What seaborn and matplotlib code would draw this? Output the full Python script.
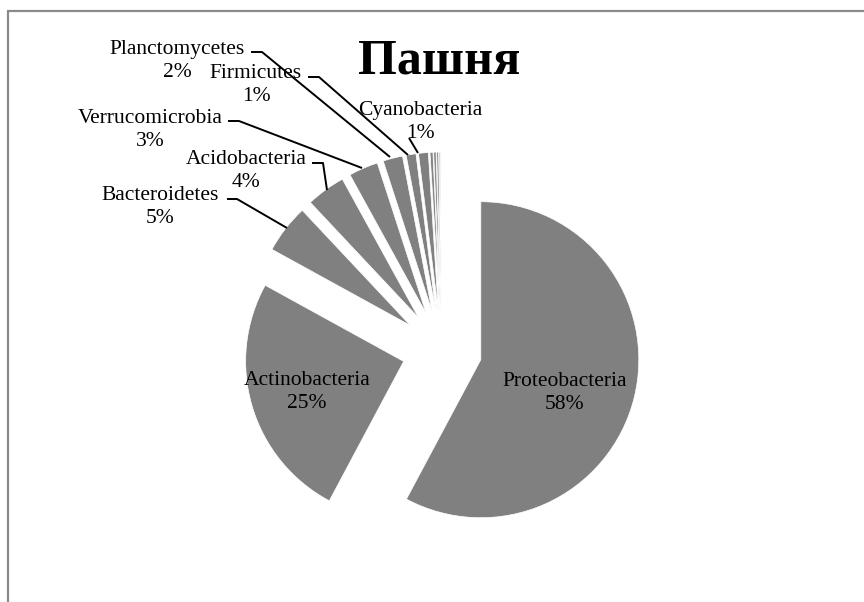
import numpy as np
import matplotlib
matplotlib.use("Agg")
import matplotlib.pyplot as plt
import seaborn as sns
from matplotlib.patches import Rectangle

# Данные: доли филумов (Пашня)
phyla = ['Proteobacteria', 'Actinobacteria', 'Bacteroidetes', 'Acidobacteria',
         'Verrucomicrobia', 'Planctomycetes', 'Firmicutes', 'Cyanobacteria',
         '', '', '', '', '', '']
shares = [57.8, 25.2, 5.0, 4.0, 3.0, 2.0, 1.0, 1.0, 0.3, 0.25, 0.2, 0.12, 0.08, 0.05]
title = 'Пашня'

sns.set_theme(style='white')
plt.rcParams['font.family'] = ['Liberation Serif', 'DejaVu Serif']
plt.rcParams['text.color'] = 'black'

W, H = 864, 602
fig = plt.figure(figsize=(W / 100, H / 100), dpi=100)
ax = fig.add_axes([0, 0, 1, 1])

gray = '#808080'
colors = [gray] * 8 + ['#858585', '#8c8c8c', '#939393', '#9c9c9c', '#a6a6a6', '#b0b0b0']
cx, cy, r = 442, H - 350, 158

# explode в единицах данных (пиксели), все доли отодвинуты одинаково
wedges, _ = ax.pie(shares, colors=colors, explode=[40] * len(shares),
                   startangle=90, counterclock=False, radius=r, center=(cx, cy),
                   wedgeprops=dict(edgecolor='white', linewidth=0.5), frame=True)

ax.set_xlim(0, W)
ax.set_ylim(0, H)
ax.set_aspect('equal')
ax.axis('off')

def py(y):
    return H - y

fs = 15.5
ls = 1.35
# метки внутри
ax.text(565, py(393), f'{phyla[0]}\n{shares[0]:.0f}%', ha='center', va='center',
        fontsize=fs, linespacing=ls)
ax.text(307, py(392), f'{phyla[1]}\n{shares[1]:.0f}%', ha='center', va='center',
        fontsize=fs, linespacing=ls)

# внешние метки: (индекс, центр текста, линия-выноска)
outside = [
    (2, (160, 207), [(227, 199), (237, 199), (287, 228)]),
    (3, (246, 171), [(312, 163), (323, 163), (327, 190)]),
    (4, (150, 130), [(228, 121), (239, 121), (362, 168)]),
    (5, (177, 61), [(251, 52), (262, 52), (390, 157)]),
    (6, (256, 85), [(308, 77), (319, 77), (408, 155)]),
    (7, (420, 122), [(409, 138), (418, 153)]),
]
for i, (tx, ty), pts in outside:
    ax.text(tx, py(ty), f'{phyla[i]}\n{shares[i]:.0f}%', ha='center', va='center',
            fontsize=fs, linespacing=ls)
    xs, ys = zip(*pts)
    ax.plot(xs, [py(v) for v in ys], color='black', lw=1.4, solid_capstyle='butt')

ax.text(439, py(62), title, ha='center', va='center', fontsize=36, fontweight='bold')

ax.add_patch(Rectangle((8, -20), W + 20, py(11) + 20, fill=False,
                       edgecolor='#8a8a8a', lw=1.6, clip_on=True))

fig.savefig('out.png', dpi=100, facecolor='white')
